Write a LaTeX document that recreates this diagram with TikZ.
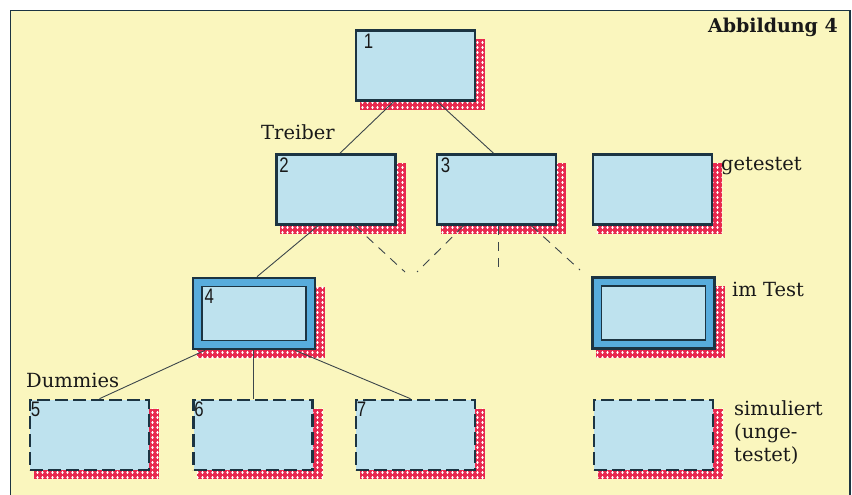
\documentclass[tikz,border=0pt]{standalone}
\usepackage{fontspec}
\setmainfont{DejaVu Serif}
\newfontfamily\numfont{Liberation Sans}
\usetikzlibrary{patterns,calc}
\pgfdeclarelayer{bgl}
\pgfdeclarelayer{shl}
\pgfsetlayers{bgl,shl,main}
\pgfdeclarepatternformonly{knit}{\pgfpoint{-1pt}{-1pt}}{\pgfpoint{6pt}{6pt}}{\pgfpoint{5pt}{5pt}}{%
  \pgfpathellipse{\pgfpoint{2.5pt}{2.5pt}}{\pgfpoint{1.2pt}{0pt}}{\pgfpoint{0pt}{1.6pt}}%
  \pgfusepath{fill}%
}
\definecolor{paper}{RGB}{250,246,190}
\definecolor{boxfill}{RGB}{190,226,238}
\definecolor{midblue}{RGB}{88,172,220}
\definecolor{navy}{RGB}{28,52,66}
\definecolor{shred}{RGB}{232,40,78}
\definecolor{ink}{RGB}{25,25,25}
\definecolor{linec}{RGB}{60,70,75}
\tikzset{
  box/.style={draw=navy, line width=2.6pt, fill=boxfill, minimum width=119pt, minimum height=70pt, inner sep=0pt},
  dbox/.style={box, dash pattern=on 13pt off 5pt},
  tbox/.style={draw=navy, line width=2.6pt, fill=midblue, minimum width=122pt, minimum height=71pt, inner sep=0pt},
  ibox/.style={draw=navy, line width=1.2pt, fill=boxfill, minimum width=104pt, minimum height=54pt, inner sep=0pt},
  num/.style={font=\numfont\fontsize{21}{21}\selectfont, text=ink, inner sep=0pt, anchor=north west},
  lbl/.style={font=\fontsize{19.5}{23}\selectfont, text=ink, inner sep=0pt},
  conn/.style={draw=linec, line width=0.9pt},
  dconn/.style={conn, dash pattern=on 9pt off 7pt},
}
\newcommand\knitshadow[1]{%
  \begin{pgfonlayer}{shl}
  \fill[shred] ($(#1.north west)+(5,10)$) rectangle ($(#1.south east)+(9,8)$);
  \fill[pattern=knit, pattern color=white] ($(#1.north west)+(5,10)$) rectangle ($(#1.south east)+(9,8)$);
  \end{pgfonlayer}}
\begin{document}
\begin{tikzpicture}[x=1pt,y=-1pt]
\useasboundingbox (0,0) rectangle (852,495);
\begin{pgfonlayer}{bgl}
\fill[white] (0,0) rectangle (852,495);
\fill[paper] (10.5,10.5) rectangle (850,500);
\draw[navy, line width=1.8pt] (10.5,500) -- (10.5,10.5) -- (850,10.5) -- (850,500);
\end{pgfonlayer}

% boxes
\node[box] (b1) at (415.5,65.5) {};
\node[box] (b2) at (336,189.5) {};
\node[box] (b3) at (496.5,189.5) {};
\node[box] (bg) at (652.5,189.5) {};
\node[tbox] (b4) at (254,313.5) {};
\node[ibox] (b4i) at (254,313.5) {};
\node[tbox] (bt) at (653.5,313) {};
\node[ibox] (bti) at (653.5,313) {};
\node[dbox] (b5) at (89.5,435) {};
\node[dbox] (b6) at (253,435) {};
\node[dbox] (b7) at (415.5,435) {};
\node[dbox] (bs) at (653.5,435) {};

\knitshadow{b1}\knitshadow{b2}\knitshadow{b3}\knitshadow{bg}
\knitshadow{b4}\knitshadow{bt}\knitshadow{b5}\knitshadow{b6}
\knitshadow{b7}\knitshadow{bs}

% numbers
\node[num, xscale=0.8] (n1) at ($(b1.north west)+(9,5)$) {1};
\node[num, xscale=0.8] (n2) at ($(b2.north west)+(4,4)$) {2};
\node[num, xscale=0.8] (n3) at ($(b3.north west)+(5,4)$) {3};
\node[num, xscale=0.8] (n4) at ($(b4i.north west)+(3,3)$) {4};
\node[num, xscale=0.8] (n5) at ($(b5.north west)+(2,3)$) {5};
\node[num, xscale=0.8] (n6) at ($(b6.north west)+(2,3)$) {6};
\node[num, xscale=0.8] (n7) at ($(b7.north west)+(2,3)$) {7};

% connectors
\draw[conn] ($(b1.south)+(-22,0)$) -- ($(b2.north)+(4,0)$);
\draw[conn] ($(b1.south)+(22,0)$) -- ($(b3.north)+(-3,0)$);
\draw[conn] ($(b2.south)+(-18,0)$) -- ($(b4.north)+(3,0)$);
\coordinate (e1) at (405,272);
\coordinate (e2) at (417,272);
\coordinate (e3) at (498,272);
\coordinate (e4) at (580,270);
\draw[dconn] ($(b2.south)+(19,0)$) -- (e1);
\draw[dconn] ($(b3.south)+(-33,0)$) -- (e2);
\draw[dconn] ($(b3.south)+(1.5,0)$) -- (e3);
\draw[dconn] ($(b3.south)+(35,0)$) -- (e4);
\draw[conn] ($(b4.south)+(-49,0)$) -- ($(b5.north)+(10,0)$);
\draw[conn] ($(b4.south)+(-1,0)$) -- ($(b6.north)+(0,0)$);
\draw[conn] ($(b4.south)+(41,0)$) -- ($(b7.north)+(-5,0)$);

% labels
\node[lbl, anchor=west] (treiber) at (261,132) {Treiber};
\node[lbl, anchor=west] (dummies) at (26,380) {Dummies};
\node[lbl, anchor=west] (getestet) at (721,166) {getestet};
\node[lbl, anchor=west] (imtest) at (732,289) {im Test};
\node[lbl, anchor=north west, align=left] (simuliert) at (734,400) {simuliert\\(unge-\\testet)};
\node[lbl, anchor=east, font=\bfseries\fontsize{19}{22}\selectfont] (title) at (838,27) {Abbildung 4};
\end{tikzpicture}
\end{document}
